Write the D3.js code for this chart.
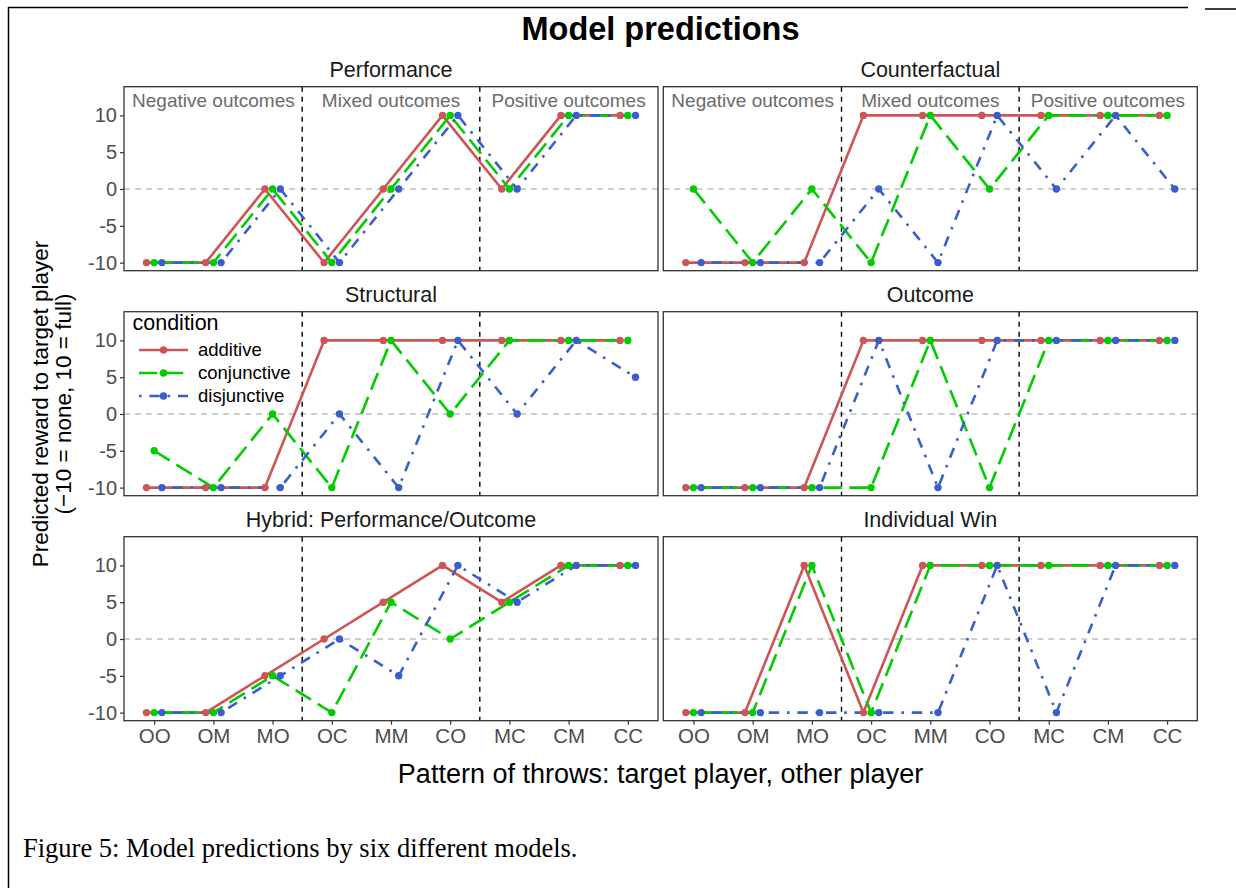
<!DOCTYPE html>
<html>
<head>
<meta charset="utf-8">
<script src="https://cdn.jsdelivr.net/npm/d3@7"></script>
<style>
  html, body { margin: 0; padding: 0; background: #fff; }
  svg { display: block; }
  text { font-family: "Liberation Sans", Arial, Helvetica, sans-serif; }
  text.caption { font-family: "Liberation Serif", "Times New Roman", Times, serif; }
</style>
</head>
<body>
<svg id="chart" width="1236" height="888"></svg>
<script>
// ---------------- data ----------------
const categories = ["OO", "OM", "MO", "OC", "MM", "CO", "MC", "CM", "CC"];
const conditions = ["additive", "conjunctive", "disjunctive"];
const panelTitles = ["Performance", "Counterfactual", "Structural", "Outcome",
                     "Hybrid: Performance/Outcome", "Individual Win"];
const regionLabels = ["Negative outcomes", "Mixed outcomes", "Positive outcomes"];
const regionLabelCats = ["OM", "MM", "CM"];
const regionLabelY = 12;
const regionBreaks = [3.5, 6.5];       // between MO|OC and CO|MC (1-based category index)
const yTicks = [-10, -5, 0, 5, 10];
const yTickLabels = ["-10", "-5", "0", "5", "10"];

// values per model: [additive, conjunctive, disjunctive]
const performance = [
  [-10, -10, 0, -10, 0, 10, 0, 10, 10],
  [-10, -10, 0, -10, 0, 10, 0, 10, 10],
  [-10, -10, 0, -10, 0, 10, 0, 10, 10]
];
const counterfactual = [
  [-10, -10, -10, 10, 10, 10, 10, 10, 10],
  [0, -10, 0, -10, 10, 0, 10, 10, 10],
  [-10, -10, -10, 0, -10, 10, 0, 10, 0]
];
const structural = [
  [-10, -10, -10, 10, 10, 10, 10, 10, 10],
  [-5, -10, 0, -10, 10, 0, 10, 10, 10],
  [-10, -10, -10, 0, -10, 10, 0, 10, 5]
];
const outcome = [
  [-10, -10, -10, 10, 10, 10, 10, 10, 10],
  [-10, -10, -10, -10, 10, -10, 10, 10, 10],
  [-10, -10, -10, 10, -10, 10, 10, 10, 10]
];
const hybrid = [
  [-10, -10, -5, 0, 5, 10, 5, 10, 10],
  [-10, -10, -5, -10, 5, 0, 5, 10, 10],
  [-10, -10, -5, 0, -5, 10, 5, 10, 10]
];
const individualWin = [
  [-10, -10, 10, -10, 10, 10, 10, 10, 10],
  [-10, -10, 10, -10, 10, 10, 10, 10, 10],
  [-10, -10, -10, -10, -10, 10, -10, 10, 10]
];
const modelValues = [performance, counterfactual, structural, outcome, hybrid, individualWin];

// ---------------- styles ----------------
const colors = ["#CD5555", "#00CD00", "#3A5FCD"];
const lineW = 2.6;
const dashes = [null, [18.2, 7.8].join(","), [2.6, 7.8, 10.4, 7.8].join(",")];
const dodge = [-0.13, 0, 0.13];

// ---------------- layout ----------------
const svg = d3.select("#chart");
const colX = [124, 663.3];
const rowY = [86.7, 311.7, 536.7];
const panelW = 534, panelH = 184;

const x = d3.scalePoint().domain(categories).range([0, panelW]).padding(0.51);
const step = x.step();
const y = d3.scaleLinear().domain([-11.1, 13.9]).range([panelH, 0]);
const idxToX = i => x(categories[0]) + (i - 1) * step;

// outer frame lines (page edges)
svg.append("line").attr("x1", 8.5).attr("x2", 8.5).attr("y1", 7).attr("y2", 888)
  .attr("stroke", "#000").attr("stroke-width", 1.5);
svg.append("line").attr("x1", 8).attr("x2", 1188).attr("y1", 7.5).attr("y2", 7.5)
  .attr("stroke", "#000").attr("stroke-width", 1.5);
svg.append("line").attr("x1", 1205).attr("x2", 1236).attr("y1", 9).attr("y2", 9)
  .attr("stroke", "#000").attr("stroke-width", 1.5);

// title
svg.append("text").attr("x", 660.5).attr("y", 40).attr("text-anchor", "middle")
  .attr("font-size", 32.5).attr("font-weight", "bold").attr("fill", "#000")
  .text("Model predictions");

const line = d3.line().x(d => d[0]).y(d => d[1]);

modelValues.forEach((model, p) => {
  const col = p % 2, row = Math.floor(p / 2);
  const g = svg.append("g").attr("transform", `translate(${colX[col]},${rowY[row]})`);

  // strip title
  svg.append("text").attr("x", colX[col] + panelW / 2).attr("y", rowY[row] - 9.5)
    .attr("text-anchor", "middle").attr("font-size", 21.5).attr("fill", "#1a1a1a")
    .text(panelTitles[p]);

  // zero reference line
  g.append("line").attr("x1", 0).attr("x2", panelW).attr("y1", y(0)).attr("y2", y(0))
    .attr("stroke", "#BEBEBE").attr("stroke-width", 1.3).attr("stroke-dasharray", "6,5");

  // region breaks
  regionBreaks.forEach(b => {
    g.append("line").attr("x1", idxToX(b)).attr("x2", idxToX(b)).attr("y1", 0).attr("y2", panelH)
      .attr("stroke", "#000").attr("stroke-width", 1.4).attr("stroke-dasharray", "5,5");
  });

  // region labels (top row only)
  if (row === 0) {
    regionLabels.forEach((t, i) => {
      g.append("text").attr("x", x(regionLabelCats[i])).attr("y", y(regionLabelY))
        .attr("dy", "0.35em").attr("text-anchor", "middle").attr("font-size", 19)
        .attr("fill", "#6b6b6b").text(t);
    });
  }

  // lines
  model.forEach((vals, c) => {
    const pts = vals.map((v, i) => [x(categories[i]) + dodge[c] * step, y(v)]);
    const path = g.append("path").attr("d", line(pts)).attr("fill", "none")
      .attr("stroke", colors[c]).attr("stroke-width", lineW)
      .attr("stroke-linejoin", "round").attr("stroke-linecap", "butt");
    if (dashes[c]) path.attr("stroke-dasharray", dashes[c]);
  });
  // points
  model.forEach((vals, c) => {
    g.selectAll(null).data(vals).enter().append("circle")
      .attr("cx", (v, i) => x(categories[i]) + dodge[c] * step)
      .attr("cy", v => y(v)).attr("r", 3.7).attr("fill", colors[c]);
  });

  // panel border
  g.append("rect").attr("x", 0).attr("y", 0).attr("width", panelW).attr("height", panelH)
    .attr("fill", "none").attr("stroke", "#333").attr("stroke-width", 1.3);

  // y axis (left column only)
  if (col === 0) {
    const ya = d3.axisLeft(y).tickValues(yTicks).tickSize(4).tickPadding(3)
      .tickFormat((d, i) => yTickLabels[i]);
    const ag = g.append("g").call(ya);
    ag.select(".domain").remove();
    ag.selectAll(".tick line").attr("stroke", "#333").attr("stroke-width", 1.2);
    ag.selectAll(".tick text").attr("font-size", 20).attr("fill", "#4D4D4D");
  }
  // x axis (bottom row only)
  if (row === 2) {
    const xa = d3.axisBottom(x).tickSize(4).tickPadding(4);
    const ag = g.append("g").attr("transform", `translate(0,${panelH})`).call(xa);
    ag.select(".domain").remove();
    ag.selectAll(".tick line").attr("stroke", "#333").attr("stroke-width", 1.2);
    ag.selectAll(".tick text").attr("font-size", 20.5).attr("fill", "#4D4D4D");
  }

  // legend inside Structural panel
  if (p === 2) {
    const lg = svg.append("g");
    lg.append("text").attr("x", 132.5).attr("y", 330).attr("font-size", 21.5)
      .attr("fill", "#000").text("condition");
    conditions.forEach((c, i) => {
      const yy = 350 + i * 23;
      const l = lg.append("line").attr("x1", 139).attr("x2", 188).attr("y1", yy).attr("y2", yy)
        .attr("stroke", colors[i]).attr("stroke-width", lineW);
      if (dashes[i]) l.attr("stroke-dasharray", dashes[i]);
      lg.append("circle").attr("cx", 163.5).attr("cy", yy).attr("r", 3.7).attr("fill", colors[i]);
      lg.append("text").attr("x", 198).attr("y", yy).attr("dy", "0.35em")
        .attr("font-size", 18.5).attr("fill", "#000").text(c);
    });
  }
});

// axis titles
svg.append("text").attr("x", 660.5).attr("y", 783).attr("text-anchor", "middle")
  .attr("font-size", 27).attr("fill", "#000")
  .text("Pattern of throws: target player, other player");

const yt = svg.append("text").attr("transform", "translate(40,404) rotate(-90)")
  .attr("text-anchor", "middle").attr("font-size", 22.5).attr("fill", "#000");
yt.append("tspan").attr("x", 0).attr("dy", "0.35em").text("Predicted reward to target player");
yt.append("tspan").attr("x", 0).attr("dy", "1.05em").text("(\u221210 = none, 10 = full)");

// caption
svg.append("text").attr("class", "caption").attr("x", 23).attr("y", 857)
  .attr("font-size", 26.5).attr("fill", "#000")
  .text("Figure 5: Model predictions by six different models.");
</script>
</body>
</html>
